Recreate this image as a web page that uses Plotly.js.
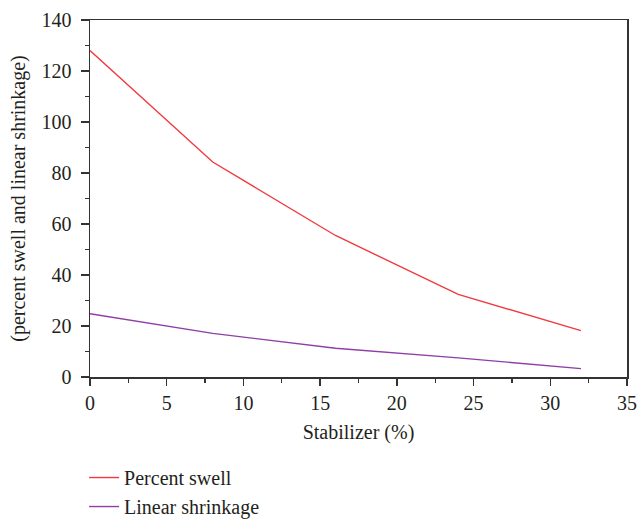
<!DOCTYPE html>
<html>
<head>
<meta charset="utf-8">
<script src="https://cdn.plot.ly/plotly-3.0.1.min.js"></script>
<style>html,body{margin:0;padding:0;background:#fff;}#chart{width:638px;height:520px;}</style>
</head>
<body>
<div id="chart"></div>
<script>
const stabilizer = [0, 8, 16, 24, 32];
const percentSwell = [128, 84.3, 55.5, 32.4, 18.2];
const linearShrinkage = [24.8, 17.1, 11.3, 7.5, 3.3];
const seriesNames = ["Percent swell", "Linear shrinkage"];
const xTitle = "Stabilizer (%)";
const yTitle = "(percent swell and linear shrinkage)";

const fontFam = "Liberation Serif, DejaVu Serif, serif";
const txt = "#231f20";
const fs = 20;

const traces = [
  {x: stabilizer, y: percentSwell, name: seriesNames[0], mode: "lines", type: "scatter",
   line: {color: "#f03a3f", width: 1.4}},
  {x: stabilizer, y: linearShrinkage, name: seriesNames[1], mode: "lines", type: "scatter",
   line: {color: "#8e3ea6", width: 1.4}}
];

const layout = {
  width: 638, height: 520,
  margin: {l: 89.5, r: 11, t: 20, b: 143, autoexpand: false},
  paper_bgcolor: "#fff", plot_bgcolor: "#fff",
  font: {family: fontFam, size: fs, color: txt},
  showlegend: true,
  legend: {x: -0.011, y: -0.227, xanchor: "left", yanchor: "top", orientation: "v",
           font: {family: fontFam, size: fs, color: txt}, tracegroupgap: 0},
  xaxis: {
    range: [0, 35], dtick: 5, tick0: 0, showgrid: false, zeroline: false,
    showline: true, linecolor: "#333", linewidth: 1.5, mirror: true,
    ticks: "outside", ticklen: 7, tickwidth: 1.3, tickcolor: "#333",
    minor: {dtick: 2.5, ticks: "outside", ticklen: 4, tickwidth: 1.2, tickcolor: "#333", showgrid: false},
    tickfont: {family: fontFam, size: fs, color: txt},
    title: {text: xTitle, font: {family: fontFam, size: fs, color: txt}, standoff: 12}
  },
  xaxis2: {
    overlaying: "x", side: "top", anchor: "y", range: [0, 35],
    tickmode: "array", tickvals: [2.5, 7.5, 12.5, 17.5, 22.5, 27.5, 32.5],
    ticks: "inside", ticklen: 4, tickwidth: 1.2, tickcolor: "#333",
    showticklabels: false, showgrid: false, zeroline: false, showline: false
  },
  yaxis: {
    range: [0, 140], dtick: 20, tick0: 0, showgrid: false, zeroline: false,
    showline: true, linecolor: "#333", linewidth: 1.5, mirror: true,
    ticks: "outside", ticklen: 8, tickwidth: 1.3, tickcolor: "#333",
    ticklabelstandoff: 5,
    minor: {dtick: 10, ticks: "outside", ticklen: 4, tickwidth: 1.2, tickcolor: "#333", showgrid: false},
    tickfont: {family: fontFam, size: fs, color: txt},
    title: {text: yTitle, font: {family: fontFam, size: fs, color: txt}, standoff: 10}
  }
};

Plotly.newPlot("chart", traces, layout, {displayModeBar: false, staticPlot: true});
</script>
</body>
</html>
